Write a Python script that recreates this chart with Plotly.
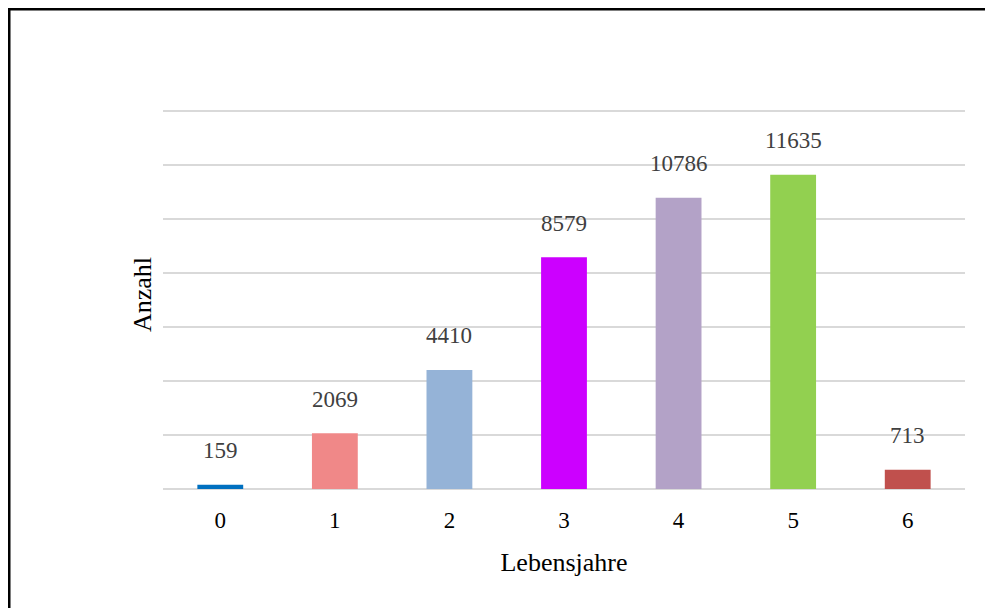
import plotly.graph_objects as go

# Anzahl je Lebensjahr
jahre   = ['0', '1', '2', '3', '4', '5', '6']
anzahl  = [159, 2069, 4410, 8579, 10786, 11635, 713]
farben  = ['#0070C0', '#F08888', '#95B3D7', '#CC00FF', '#B3A2C7', '#92D050', '#C0504D']

FONT = 'Liberation Serif'

fig = go.Figure()
fig.add_trace(go.Bar(
    x=jahre, y=anzahl, marker=dict(color=farben, line=dict(width=0)),
    width=0.4, showlegend=False, hoverinfo='x+y',
))

# data labels, sitting a bit above each bar
for j, n in zip(jahre, anzahl):
    fig.add_annotation(x=j, y=n, text=str(n), showarrow=False,
                       yshift=34, font=dict(family=FONT, size=23, color='#404040'))

# outer frame (page body adds 8px, so the frame sits at the figure's edge)
fig.add_shape(type='rect', xref='paper', yref='paper',
              x0=-0.1917, x1=1.2, y0=-0.5, y1=1.2333,
              line=dict(color='black', width=2.5), fillcolor='rgba(0,0,0,0)')

fig.update_xaxes(
    showgrid=False, showline=False, zeroline=False,
    ticks='outside', ticklen=10, tickcolor='rgba(0,0,0,0)',
    tickfont=dict(family=FONT, size=23, color='black'),
    title=dict(text='Lebensjahre', font=dict(family=FONT, size=26, color='black'), standoff=21),
)
fig.update_yaxes(
    range=[0, 14407], tickvals=[0, 2000, 4000, 6000, 8000, 10000, 12000, 14000],
    showticklabels=False,
    showgrid=True, gridcolor='#D9D9D9', gridwidth=1.5,
    zeroline=True, zerolinecolor='#D9D9D9', zerolinewidth=1.5, showline=False,
    title=dict(text='Anzahl', font=dict(family=FONT, size=26, color='black'), standoff=2),
)
fig.update_layout(
    width=993, height=608,
    margin=dict(l=155, r=36, t=92, b=127, autoexpand=False),
    plot_bgcolor='white', paper_bgcolor='white',
    bargap=0.6,
)
fig.write_html('out.html')
